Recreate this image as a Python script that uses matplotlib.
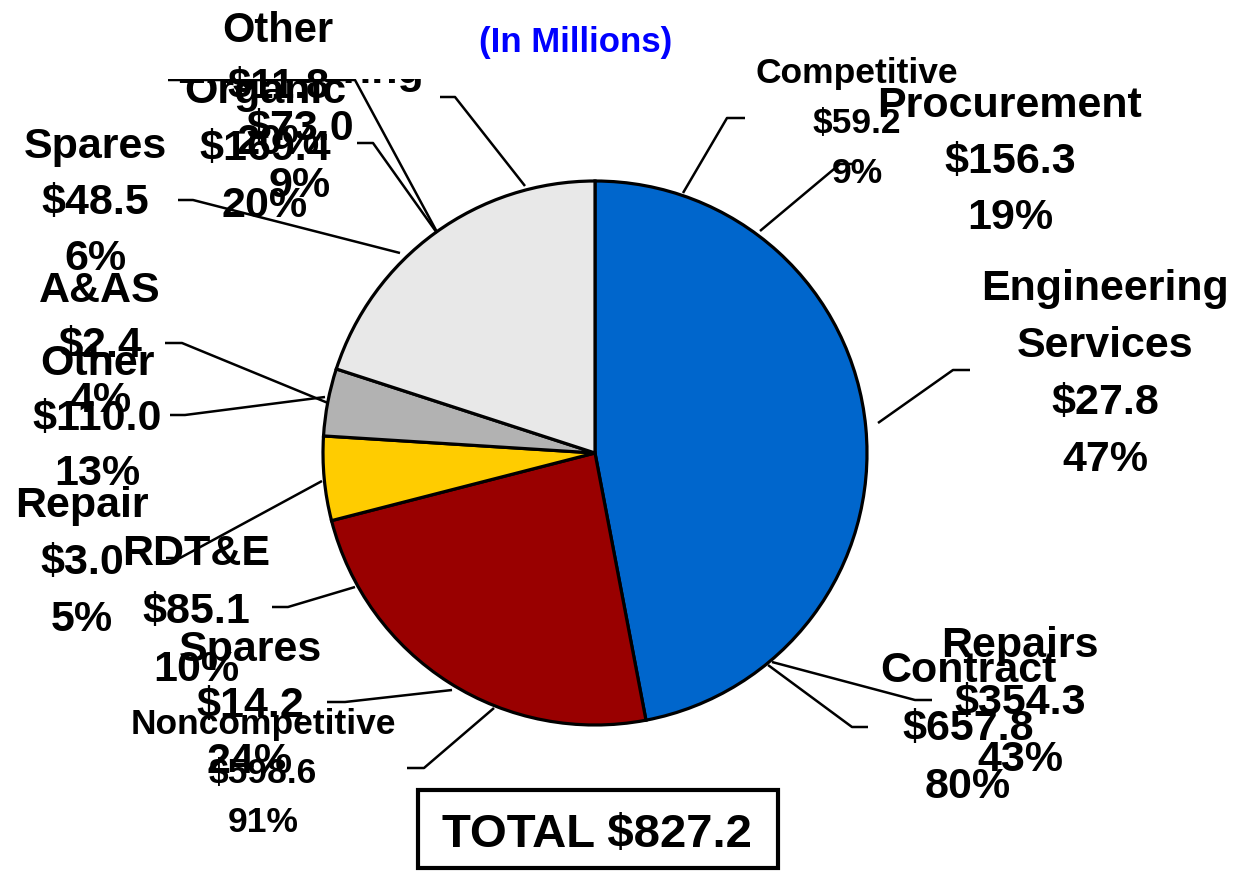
import matplotlib
matplotlib.use("Agg")
import matplotlib.pyplot as plt
from matplotlib.patches import Rectangle

# =====================================================
# Data
# =====================================================

slice_shares = [47, 24, 5, 4, 20]
slice_colors = ["#0066CC", "#990000", "#FFCC00", "#B2B2B2", "#E8E8E8"]

title_text = "(In Millions)"
total_text = "TOTAL $827.2"

# label blocks: lines, centre x, first line centre y, line step, font size
label_lines = [
    ["Engineering", "$73.0", "9%"],
    ["Organic", "$169.4", "20%"],
    ["Other", "$11.8", "20%"],
    ["Spares", "$48.5", "6%"],
    ["A&AS", "$2.4", "4%"],
    ["Other", "$110.0", "13%"],
    ["Repair", "$3.0", "5%"],
    ["RDT&E", "$85.1", "10%"],
    ["Spares", "$14.2", "24%"],
    ["Noncompetitive", "$598.6", "91%"],
    ["Competitive", "$59.2", "9%"],
    ["Procurement", "$156.3", "19%"],
    ["Engineering", "Services", "$27.8", "47%"],
    ["Repairs", "$354.3", "43%"],
    ["Contract", "$657.8", "80%"],
]
label_x = [300, 265, 278, 95, 100, 97, 82, 196, 250, 263, 857, 1010, 1105, 1020, 968]
label_y = [68, 88, 27, 143, 287, 360, 502, 550, 646, 721, 70, 102, 285, 642, 667]
label_step = [57, 57, 56, 56, 55, 55, 57, 58, 56, 49, 50, 56, 57, 57, 58]
label_size = [31, 31, 30, 31, 31, 31, 31, 31, 31, 25.5, 25.5, 31, 31, 31, 31]
label_z = [3, 3, 6, 5, 5, 5, 5, 5, 5, 5, 5, 5, 5, 5, 5]

# leader lines (pixel layout)
leaders = [
    [(168, 80), (355, 80), (437, 232)],
    [(357, 143), (373, 143), (437, 233)],
    [(440, 97), (455, 97), (525, 186)],
    [(178, 200), (193, 200), (400, 253)],
    [(165, 343), (182, 343), (328, 403)],
    [(170, 415), (185, 415), (325, 397)],
    [(166, 558), (180, 558), (322, 481)],
    [(272, 607), (288, 607), (355, 587)],
    [(327, 702), (345, 702), (452, 690)],
    [(407, 768), (424, 768), (494, 708)],
    [(745, 118), (727, 118), (683, 193)],
    [(855, 164), (840, 164), (760, 231)],
    [(970, 370), (953, 370), (878, 423)],
    [(932, 700), (915, 700), (772, 662)],
    [(868, 727), (852, 727), (768, 665)],
]

FONT = "Liberation Sans"

# =====================================================
# Figure
# =====================================================

fig = plt.figure(figsize=(12.35, 8.72), dpi=100)
ax = fig.add_axes([0, 0, 1, 1])

ax.pie(
    slice_shares,
    colors=slice_colors,
    center=(595, 453),
    radius=272,
    startangle=-90,
    counterclock=True,
    wedgeprops=dict(edgecolor="black", linewidth=2.3),
)
ax.set_xlim(0, 1235)
ax.set_ylim(872, 0)
ax.set_aspect("equal")
ax.axis("off")

# =====================================================
# Leader lines
# =====================================================

for pts in leaders:
    xs = [p[0] for p in pts]
    ys = [p[1] for p in pts]
    ax.plot(xs, ys, color="black", lw=1.8, zorder=3, solid_capstyle="butt")

# =====================================================
# Labels
# =====================================================

for lines, x, y0, step, fs, z in zip(label_lines, label_x, label_y,
                                      label_step, label_size, label_z):
    cap = 0.716 * fs * 100 / 72
    for i, line in enumerate(lines):
        ax.text(x, y0 + i * step + cap / 2, line, ha="center", va="baseline",
                fontsize=fs, fontweight="bold", family=FONT, zorder=z)

# white patch hiding the top of the crowded labels
ax.add_patch(Rectangle((160, 0), 285, 79, facecolor="white",
                       edgecolor="none", zorder=4))

ax.text(576, 40 + 0.716 * 25 * 100 / 72 / 2, title_text, ha="center",
        va="baseline", fontsize=25, fontweight="bold", family=FONT,
        color="#0000FF", zorder=5)

# =====================================================
# Total box
# =====================================================

ax.add_patch(Rectangle((418, 790), 360, 78, facecolor="white",
                       edgecolor="black", lw=3, zorder=5))
ax.text(597, 830 + 0.716 * 34 * 100 / 72 / 2, total_text, ha="center",
        va="baseline", fontsize=34, fontweight="bold", family=FONT,
        zorder=6)

fig.savefig("out.png", dpi=100)
